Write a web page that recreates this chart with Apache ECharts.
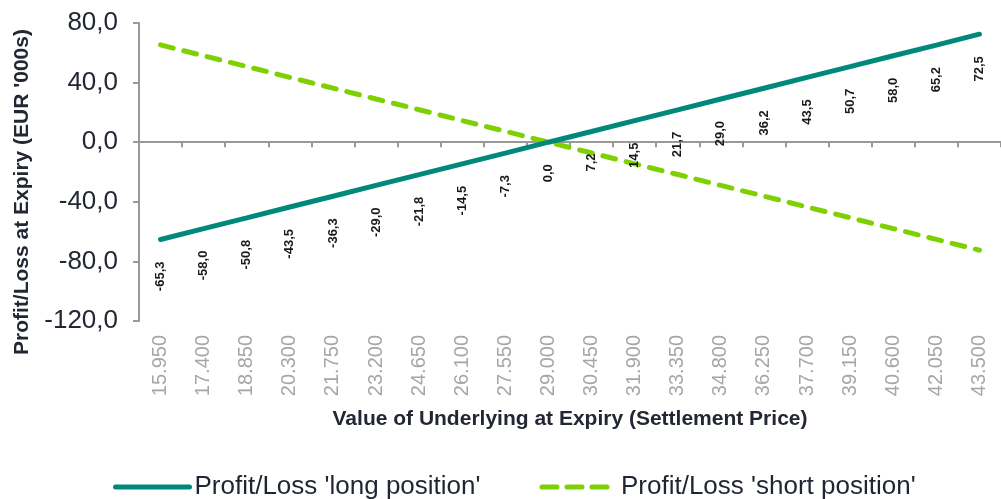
<!DOCTYPE html>
<html>
<head>
<meta charset="utf-8">
<script src="https://cdn.jsdelivr.net/npm/echarts@6/dist/echarts.min.js"></script>
<style>
html,body{margin:0;padding:0;background:#fff;}
#chart{width:1001px;height:499px;}
</style>
</head>
<body>
<div id="chart"></div>
<script>
var categories = ['15.950','17.400','18.850','20.300','21.750','23.200','24.650','26.100','27.550','29.000','30.450','31.900','33.350','34.800','36.250','37.700','39.150','40.600','42.050','43.500'];
var longPosition = [-65.3,-58.0,-50.8,-43.5,-36.3,-29.0,-21.8,-14.5,-7.3,0.0,7.2,14.5,21.7,29.0,36.2,43.5,50.7,58.0,65.2,72.5];
var shortPosition = [65.3,58.0,50.8,43.5,36.3,29.0,21.8,14.5,7.3,0.0,-7.2,-14.5,-21.7,-29.0,-36.2,-43.5,-50.7,-58.0,-65.2,-72.5];
var yTicks = {min:-120, max:80, interval:40};

var FONT = '"Liberation Sans", Arial, sans-serif';
var TEAL = '#00897b';
var LIME = '#7fd000';
var AXIS = '#999999';
function comma(v){ return v.toFixed(1).replace('.', ','); }

var chart = echarts.init(document.getElementById('chart'), null, {renderer:'canvas'});
chart.setOption({
  animation:false,
  backgroundColor:'#ffffff',
  grid:{left:139, top:23, width:872, height:298, containLabel:false},
  legend:{
    left:108, top:469,
    itemWidth:74, itemHeight:5, itemGap:59,
    itemStyle:{opacity:0},
    textStyle:{fontFamily:FONT, fontSize:26, color:'#1f2633'},
    data:[
      {name:"Profit/Loss 'long position'", lineStyle:{color:TEAL, width:5, cap:'round', type:'solid'}},
      {name:"Profit/Loss 'short position'", lineStyle:{color:LIME, width:5, cap:'round', type:[15,10]}}
    ]
  },
  xAxis:[{
    type:'category', data:categories, boundaryGap:true,
    position:'bottom',
    axisLine:{show:false, onZero:false},
    axisTick:{show:false},
    axisLabel:{rotate:90, margin:14, fontFamily:FONT, fontSize:20, color:'#a6a6a6', interval:0},
    name:'Value of Underlying at Expiry (Settlement Price)',
    nameLocation:'middle', nameGap:88,
    nameTextStyle:{fontFamily:FONT, fontSize:21, fontWeight:'bold', color:'#222733'}
  },{
    type:'category', data:categories, boundaryGap:true,
    position:'bottom',
    axisLine:{show:true, onZero:true, lineStyle:{color:AXIS, width:2}},
    axisTick:{show:true, length:5, lineStyle:{color:AXIS, width:2}, interval:0},
    axisLabel:{show:false}
  }],
  yAxis:{
    type:'value', min:yTicks.min, max:yTicks.max, interval:yTicks.interval,
    axisLine:{show:true, lineStyle:{color:AXIS, width:2}},
    axisTick:{show:true, length:6, lineStyle:{color:AXIS, width:2}},
    splitLine:{show:false},
    axisLabel:{margin:21, fontFamily:FONT, fontSize:26, color:'#222733', formatter:function(v){return comma(v);}},
    name:"Profit/Loss at Expiry (EUR '000s)",
    nameLocation:'middle', nameGap:106,
    nameTextStyle:{fontFamily:FONT, fontSize:21, fontWeight:'bold', color:'#222733', padding:[0,40,0,0]}
  },
  series:[{
    name:"Profit/Loss 'long position'",
    type:'line', xAxisIndex:0, data:longPosition,
    symbol:'circle', symbolSize:0, showSymbol:true,
    itemStyle:{color:TEAL},
    lineStyle:{color:TEAL, width:5, cap:'round'},
    label:{show:true, position:'bottom', distance:22, rotate:90, align:'right', verticalAlign:'middle',
      fontFamily:FONT, fontSize:13, fontWeight:'bold', color:'#1a1a1a',
      formatter:function(p){return comma(p.value);}},
    z:3
  },{
    name:"Profit/Loss 'short position'",
    type:'line', xAxisIndex:0, data:shortPosition,
    symbol:'circle', symbolSize:0, showSymbol:true,
    itemStyle:{color:LIME},
    lineStyle:{color:LIME, width:5, type:[13,11], cap:'round'},
    label:{show:false},
    z:2
  }]
});
</script>
</body>
</html>
